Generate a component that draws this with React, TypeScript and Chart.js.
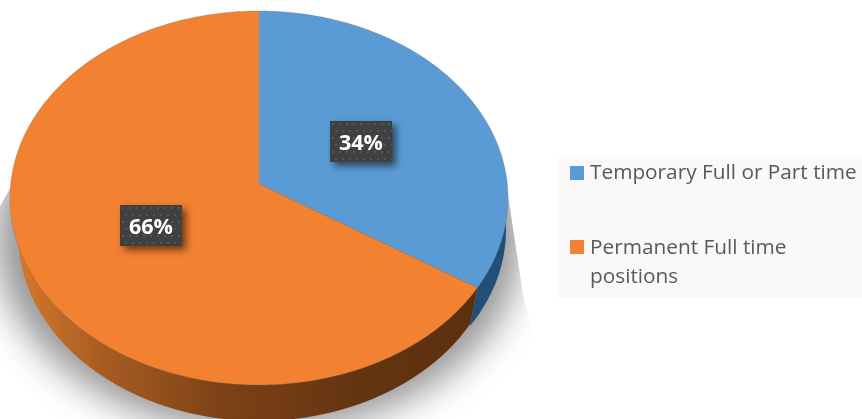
import React, { useEffect, useRef } from "react";
import { Chart, registerables } from "chart.js";

Chart.register(...registerables);

const categories = ["Temporary Full or Part time", "Permanent Full time positions"];
const legendLines = [["Temporary Full or Part time"], ["Permanent Full time", "positions"]];
const values = [34, 66];
const faceColors = ["#5b9bd5", "#f28131"];

const FONT = '"Open Sans", "Noto Sans", sans-serif';
const C = -0.0749; // perspective foreshortening
const KX = 248.3 / 184;
const KY = 172.18 / 184;

function project(a: any, angle: number, f = 1) {
  const u = Math.cos(angle) * f;
  const v = Math.sin(angle) * f;
  const d = 1 + C * v;
  return {
    x: a.x + (a.outerRadius * KX * u) / d,
    y: (a.y + a.outerRadius * KY * v) / d,
  };
}

function wallPoint(a: any, p: { x: number; y: number }) {
  return { x: a.x + (p.x - a.x) * (241 / 249), y: p.y + 35 };
}

function tracePerimeter(ctx: CanvasRenderingContext2D, a: any, s: number, e: number) {
  const n = 240;
  for (let i = 0; i <= n; i++) {
    const p = project(a, s + ((e - s) * i) / n);
    ctx.lineTo(p.x, p.y);
  }
}

function dotPattern(ctx: CanvasRenderingContext2D) {
  const c = document.createElement("canvas");
  c.width = 14;
  c.height = 14;
  const g = c.getContext("2d")!;
  g.fillStyle = "#404040";
  g.fillRect(0, 0, 14, 14);
  g.fillStyle = "#565656";
  g.fillRect(2, 2, 2, 2);
  g.fillRect(9, 2, 2, 2);
  g.fillRect(5, 9, 2, 2);
  g.fillRect(12, 9, 2, 2);
  return ctx.createPattern(c, "repeat")!;
}

const pie3d = {
  id: "pie3d",
  beforeDatasetDraw(chart: any) {
    const ctx: CanvasRenderingContext2D = chart.ctx;
    const arcs = chart.getDatasetMeta(0).data;
    const a0 = arcs[0];
    const cx = a0.x;

    // soft drop shadow only (shape kept off-canvas), visible from the waist downward
    ctx.save();
    ctx.beginPath();
    ctx.moveTo(12, 185);
    ctx.lineTo(-1, 208);
    ctx.lineTo(-1, 420);
    ctx.lineTo(620, 420);
    ctx.lineTo(540, 360);
    ctx.lineTo(523, 295);
    ctx.lineTo(507, 188);
    ctx.closePath();
    ctx.clip();
    ctx.shadowColor = "rgba(0,0,0,0.42)";
    ctx.shadowBlur = 36;
    ctx.shadowOffsetX = 3000;
    ctx.fillStyle = "#000";
    ctx.beginPath();
    ctx.ellipse(cx - 3000, 238, 263, 194, 0, 0, Math.PI * 2);
    ctx.fill();
    ctx.restore();

    // side wall
    const split = project(a0, a0.endAngle);
    const splitW = wallPoint(a0, split);

    ctx.save();
    ctx.beginPath();
    ctx.moveTo(split.x, 100);
    ctx.lineTo(split.x, split.y);
    ctx.lineTo(splitW.x, splitW.y);
    ctx.lineTo(splitW.x, 430);
    ctx.lineTo(560, 430);
    ctx.lineTo(560, 100);
    ctx.closePath();
    ctx.clip();
    ctx.fillStyle = "#234e77";
    ctx.beginPath();
    ctx.ellipse(cx, 230, 247, 185, 0, 0, Math.PI * 2);
    ctx.fill();
    ctx.restore();

    ctx.save();
    ctx.beginPath();
    ctx.moveTo(0, 100);
    ctx.lineTo(split.x, 100);
    ctx.lineTo(split.x, split.y);
    ctx.lineTo(splitW.x, splitW.y);
    ctx.lineTo(splitW.x, 430);
    ctx.lineTo(0, 430);
    ctx.closePath();
    ctx.clip();
    const gOrange = ctx.createLinearGradient(10, 0, 476, 0);
    gOrange.addColorStop(0, "#d87a2c");
    gOrange.addColorStop(0.2, "#a85c22");
    gOrange.addColorStop(0.45, "#7d4217");
    gOrange.addColorStop(0.75, "#643411");
    gOrange.addColorStop(1, "#5c300f");
    ctx.fillStyle = gOrange;
    ctx.beginPath();
    ctx.ellipse(cx, 234, 241, 187, 0, 0, Math.PI * 2);
    ctx.fill();
    ctx.restore();

    // top faces from the library's arc elements
    arcs.forEach((a: any, i: number) => {
      ctx.beginPath();
      ctx.moveTo(a.x, a.y);
      tracePerimeter(ctx, a, a.startAngle, a.endAngle);
      ctx.closePath();
      ctx.fillStyle = faceColors[i];
      ctx.fill();
    });

    // faint rim
    ctx.beginPath();
    tracePerimeter(ctx, a0, 0, Math.PI * 2);
    ctx.closePath();
    ctx.strokeStyle = "rgba(110,110,110,0.3)";
    ctx.lineWidth = 1;
    ctx.stroke();

    return false;
  },
  afterDatasetsDraw(chart: any) {
    const ctx: CanvasRenderingContext2D = chart.ctx;
    const arcs = chart.getDatasetMeta(0).data;
    const pattern = dotPattern(ctx);

    // value labels
    arcs.forEach((a: any, i: number) => {
      const p = project(a, (a.startAngle + a.endAngle) / 2, 0.49);
      const nudgeX = i === 0 ? -3 : 1;
      const nudgeY = i === 0 ? 0 : -4;
      const bx = Math.round(p.x + nudgeX - 31);
      const by = Math.round(p.y + nudgeY - 20);
      ctx.save();
      ctx.shadowColor = "rgba(0,0,0,0.55)";
      ctx.shadowBlur = 7;
      ctx.shadowOffsetX = 4;
      ctx.shadowOffsetY = 4;
      ctx.fillStyle = "#404040";
      ctx.fillRect(bx, by, 62, 41);
      ctx.restore();
      ctx.save();
      ctx.translate(bx, by);
      ctx.fillStyle = pattern;
      ctx.fillRect(0, 0, 62, 41);
      ctx.restore();
      ctx.fillStyle = "#ffffff";
      ctx.font = `bold 21.5px ${FONT}`;
      ctx.textAlign = "center";
      ctx.textBaseline = "alphabetic";
      ctx.fillText(`${values[i]}%`, bx + 31, by + 29);
    });

    // legend
    ctx.fillStyle = "#f9f9f9";
    ctx.fillRect(558, 157, 304, 141);
    const rows = [
      { sq: 166, base: [179] },
      { sq: 240, base: [254, 283] },
    ];
    rows.forEach((r, i) => {
      ctx.fillStyle = faceColors[i];
      ctx.fillRect(570, r.sq, 14, 14);
      ctx.fillStyle = "#595959";
      ctx.font = `20.8px ${FONT}`;
      ctx.textAlign = "left";
      ctx.textBaseline = "alphabetic";
      legendLines[i].forEach((t, j) => ctx.fillText(t, 590, r.base[j]));
    });
  },
};

export default function App() {
  const ref = useRef<HTMLCanvasElement>(null);
  useEffect(() => {
    document.body.style.margin = "0";
    document.body.style.background = "#ffffff";
    const chart = new Chart(ref.current!, {
      type: "pie",
      data: {
        labels: categories,
        datasets: [{ data: values, backgroundColor: faceColors, borderWidth: 0 }],
      },
      options: {
        responsive: false,
        animation: false,
        layout: { padding: { left: 0, top: 0, right: 344, bottom: 51 } },
        plugins: { legend: { display: false }, tooltip: { enabled: false } },
      },
      plugins: [pie3d],
    } as any);
    return () => chart.destroy();
  }, []);
  return <canvas ref={ref} width={862} height={419} style={{ display: "block" }} />;
}
